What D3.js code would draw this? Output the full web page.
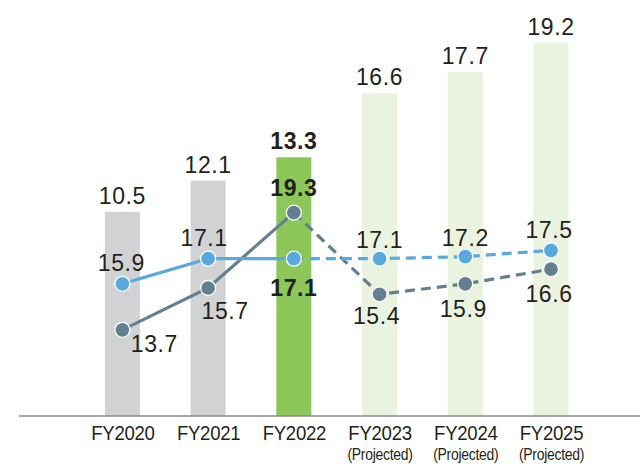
<!DOCTYPE html>
<html>
<head>
<meta charset="utf-8">
<script src="https://cdn.jsdelivr.net/npm/d3@7"></script>
<style>
  html, body { margin: 0; padding: 0; background: #fff; }
  svg { display: block; }
</style>
</head>
<body>
<div id="chart"></div>
<script>
// ---- data ----
const categories = ["FY2020", "FY2021", "FY2022", "FY2023", "FY2024", "FY2025"];
const subLabels = ["", "", "", "(Projected)", "(Projected)", "(Projected)"];
const barValues = [10.5, 12.1, 13.3, 16.6, 17.7, 19.2];
const blueValues = [15.9, 17.1, 17.1, 17.1, 17.2, 17.5];
const darkValues = [13.7, 15.7, 19.3, 15.4, 15.9, 16.6];
const barKinds = ["actual", "actual", "current", "projected", "projected", "projected"];

// ---- layout ----
const W = 640, H = 464;
const baseY = 416;
const svg = d3.select("#chart").append("svg").attr("width", W).attr("height", H);

const x = d3.scalePoint().domain(categories).range([122.4, 551]);
const barW = 35;
const yBar = d3.scaleLinear().domain([0, 20]).range([baseY, 27]);
const yLine = d3.scaleLinear().domain([10, 20]).range([407.3, 198]);

const barColor = { actual: "#d1d2d4", current: "#8dc75a", projected: "#eaf3df" };
const blue = "#5aa9de", dark = "#62808f", textColor = "#231f20";
const FONT = "'Liberation Sans', Arial, Helvetica, sans-serif";
const NUM_SIZE = 23, NUM_LS = 0.6;

// bars
svg.append("g").selectAll("rect").data(categories).join("rect")
  .attr("x", d => x(d) - barW / 2)
  .attr("y", (d, i) => yBar(barValues[i]))
  .attr("width", barW)
  .attr("height", (d, i) => baseY - yBar(barValues[i]))
  .attr("fill", (d, i) => barColor[barKinds[i]]);

// axis baseline
svg.append("line").attr("x1", 19).attr("x2", W).attr("y1", baseY).attr("y2", baseY)
  .attr("stroke", "#8a8a8a").attr("stroke-width", 1.5);

// x axis labels
const axis = svg.append("g").attr("transform", `translate(0,${baseY})`)
  .call(d3.axisBottom(x).tickSize(0).tickPadding(24));
axis.select(".domain").remove();
axis.selectAll(".tick text")
  .attr("font-family", FONT).attr("font-size", 20).attr("fill", textColor)
  .attr("dy", 0).attr("y", 24.5).attr("letter-spacing", -0.3)
  .attr("transform", "scale(0.93,1)");
axis.selectAll(".tick").append("text")
  .text((d, i) => subLabels[i])
  .attr("y", 44.5).attr("text-anchor", "middle")
  .attr("font-family", FONT).attr("font-size", 16).attr("fill", textColor)
  .attr("letter-spacing", -0.3)
  .attr("transform", "scale(0.87,1)");

// bar value labels
svg.append("g").selectAll("text").data(categories).join("text")
  .attr("x", d => x(d))
  .attr("y", (d, i) => yBar(barValues[i]) - 8)
  .attr("text-anchor", "middle")
  .attr("font-family", FONT).attr("font-size", NUM_SIZE).attr("letter-spacing", NUM_LS)
  .attr("font-weight", (d, i) => barKinds[i] === "current" ? "bold" : "normal")
  .attr("fill", textColor)
  .text((d, i) => barValues[i].toFixed(1));

// lines
function drawSeries(vals, color) {
  const pts = categories.map((c, i) => [x(c), yLine(vals[i])]);
  const line = d3.line();
  const g = svg.append("g");
  g.append("path").attr("d", line(pts.slice(0, 3)))
    .attr("fill", "none").attr("stroke", color).attr("stroke-width", 3.2);
  g.append("path").attr("d", line(pts.slice(2)))
    .attr("fill", "none").attr("stroke", color).attr("stroke-width", 3.2)
    .attr("stroke-dasharray", "10,6");
  g.selectAll("circle").data(pts).join("circle")
    .attr("cx", d => d[0]).attr("cy", d => d[1]).attr("r", 7.5)
    .attr("fill", color).attr("stroke", "#fff").attr("stroke-width", 1.3);
  return pts;
}
const darkPts = drawSeries(darkValues, dark);
const bluePts = drawSeries(blueValues, blue);

// line labels
const blueOff = [[-1, -13], [-4, -13], [0, 37], [0, -11], [0, -11], [-2, -12]];
const darkOff = [[32, 22], [17, 31], [0, -17], [-3, 30], [-2, 33], [-2, 33]];
function labels(vals, pts, off) {
  svg.append("g").selectAll("text").data(vals).join("text")
    .attr("x", (d, i) => pts[i][0] + off[i][0])
    .attr("y", (d, i) => pts[i][1] + off[i][1])
    .attr("text-anchor", "middle")
    .attr("font-family", FONT).attr("font-size", NUM_SIZE).attr("letter-spacing", NUM_LS)
    .attr("font-weight", (d, i) => barKinds[i] === "current" ? "bold" : "normal")
    .attr("fill", textColor)
    .text(d => d.toFixed(1));
}
labels(blueValues, bluePts, blueOff);
labels(darkValues, darkPts, darkOff);
</script>
</body>
</html>
